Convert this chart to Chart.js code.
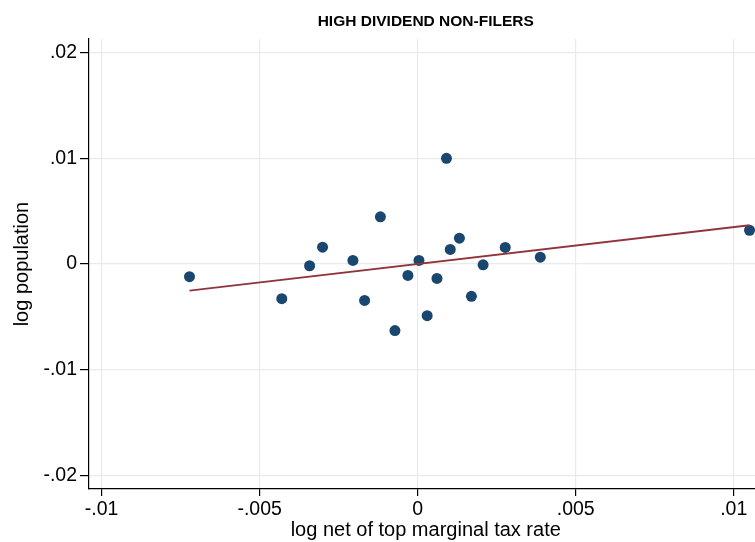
<!DOCTYPE html>
<html>
<head>
<meta charset="utf-8">
<script src="https://cdn.jsdelivr.net/npm/chart.js@4"></script>
<style>
  html, body { margin: 0; padding: 0; background: #fff; overflow: hidden; }
  /* the original graph is a bit wider than the picture and gets cut on the right */
  #wrap { width: 768px; height: 542px; position: relative; }
</style>
</head>
<body>
<div id="wrap"><canvas id="scatter-chart"></canvas></div>
<script>
const ctx = document.getElementById("scatter-chart").getContext("2d");

// log net of top marginal tax rate
const taxRate = [
  -0.00722, -0.00430, -0.00342, -0.00301, -0.00205, -0.00118, -0.00168,
  -0.00072, -0.00031, 0.00004, 0.00061, 0.00030, 0.00091, 0.00132,
  0.00103, 0.00170, 0.00207, 0.00277, 0.00388, 0.01050,
];
// log population
const population = [
  -0.00120, -0.00328, -0.00016, 0.00160, 0.00034, 0.00447, -0.00344,
  -0.00630, -0.00108, 0.00034, -0.00136, -0.00489, 0.01001, 0.00245,
  0.00138, -0.00306, -0.00007, 0.00157, 0.00065, 0.00320,
];

// fitted values (ends of the linear fit)
const fitX = [-0.00722, 0.01050];
const fitY = [-0.00252, 0.00368];

const xTicks = [-0.01, -0.005, 0, 0.005, 0.01];
const xTickLabels = ["-.01", "-.005", "0", ".005", ".01"];
const yTicks = [-0.02, -0.01, 0, 0.01, 0.02];
const yTickLabels = ["-.02", "-.01", "0", ".01", ".02"];

const points = taxRate.map((x, i) => ({ x: x, y: population[i] }));
const fitLine = fitX.map((x, i) => ({ x: x, y: fitY[i] }));

const font = "'Liberation Sans', Arial, Helvetica, sans-serif";

const chart = new Chart(ctx, {
  type: "scatter",
  data: {
    datasets: [
      {
        type: "line",
        label: "Fitted values",
        data: fitLine,
        borderColor: "#90353b",
        borderWidth: 1.9,
        pointRadius: 0,
        fill: false,
      },
      {
        label: "log population",
        data: points,
        backgroundColor: "#1a476f",
        borderColor: "#1a476f",
        borderWidth: 0,
        pointRadius: 5.5,
      },
    ],
  },
  options: {
    responsive: true,
    maintainAspectRatio: false,
    animation: false,
    layout: { padding: 0 },
    plugins: {
      legend: { display: false },
      tooltip: { enabled: false },
      title: {
        display: true,
        text: "HIGH DIVIDEND NON-FILERS",
        fullSize: false,
        color: "#000",
        font: { family: font, size: 15.5, weight: "bold" },
        padding: { top: 12.5, bottom: 8 },
      },
    },
    scales: {
      x: {
        type: "linear",
        min: -0.0104,
        max: 0.01091,
        afterBuildTicks: (s) => {
          s.ticks = xTicks.map((v) => ({ value: v }));
        },
        afterFit: (s) => {
          s.height = 53;
        },
        ticks: {
          color: "#000",
          font: { family: font, size: 19.5 },
          padding: 2,
          maxRotation: 0,
          autoSkip: false,
          callback: (v) => xTickLabels[xTicks.indexOf(v)],
        },
        grid: {
          color: "#eaeaea",
          lineWidth: 1.2,
          tickColor: "#000",
          tickLength: 7,
        },
        border: { color: "#000", width: 1.2 },
        title: {
          display: true,
          text: "log net of top marginal tax rate",
          color: "#000",
          font: { family: font, size: 20 },
          padding: { top: 0, bottom: 0 },
        },
      },
      y: {
        type: "linear",
        min: -0.0213,
        max: 0.0213,
        afterBuildTicks: (s) => {
          s.ticks = yTicks.map((v) => ({ value: v }));
        },
        afterFit: (s) => {
          s.width = 89;
        },
        ticks: {
          color: "#000",
          font: { family: font, size: 19.5 },
          padding: 3,
          autoSkip: false,
          callback: (v) => yTickLabels[yTicks.indexOf(v)],
        },
        grid: {
          color: "#eaeaea",
          lineWidth: 1.2,
          tickColor: "#000",
          tickLength: 9,
        },
        border: { color: "#000", width: 1.2 },
        title: {
          display: true,
          text: "log population",
          color: "#000",
          font: { family: font, size: 20 },
          padding: { top: 10, bottom: 0 },
        },
      },
    },
  },
});
</script>
</body>
</html>
